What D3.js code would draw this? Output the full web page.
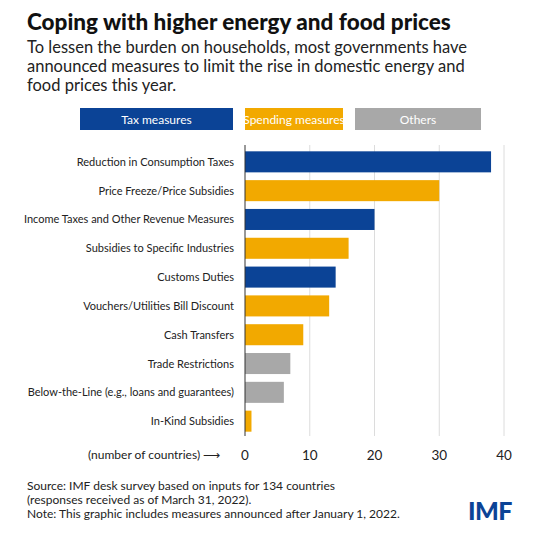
<!DOCTYPE html>
<html><head><meta charset="utf-8">
<script src="https://cdn.jsdelivr.net/npm/d3@7"></script>
<style>body{margin:0;background:#fff;font-family:Lato,"Open Sans",sans-serif;}</style>
</head><body><div id="chart"></div>
<script>
const categories = ["Reduction in Consumption Taxes","Price Freeze/Price Subsidies","Income Taxes and Other Revenue Measures","Subsidies to Specific Industries","Customs Duties","Vouchers/Utilities Bill Discount","Cash Transfers","Trade Restrictions","Below-the-Line (e.g., loans and guarantees)","In-Kind Subsidies"];
const values = [38, 30, 20, 16, 14, 13, 9, 7, 6, 1];
const groups = ["tax","spend","tax","spend","tax","spend","spend","other","other","spend"];
const legendLabels = ["Tax measures","Spending measures","Others"];
const ticks = [0, 10, 20, 30, 40];

const color = {tax:"#0b4396", spend:"#f2a900", other:"#a8a8a8"};
const svg = d3.select("#chart").append("svg").attr("width",539).attr("height",539);

svg.append("text").attr("x",27).attr("y",30).attr("font-size",22.5).attr("font-weight",900)
  .attr("fill","#111").text("Coping with higher energy and food prices");
["To lessen the burden on households, most governments have","announced measures to limit the rise in domestic energy and","food prices this year."]
  .forEach((t,i)=>svg.append("text").attr("x",27).attr("y",53+i*19).attr("font-size",16.5).attr("fill","#222").text(t));

// legend
const lg = [{k:"tax",x:80,w:153},{k:"spend",x:245,w:98},{k:"other",x:355,w:126}];
lg.forEach((d,i)=>{
  svg.append("rect").attr("x",d.x).attr("y",108).attr("width",d.w).attr("height",22).attr("fill",color[d.k]);
  svg.append("text").attr("x",d.x+d.w/2).attr("y",123.5).attr("text-anchor","middle").attr("font-size",12)
    .attr("fill","#fff").text(legendLabels[i]);
});

const x = d3.scaleLinear().domain([0,40]).range([245,504]);
const y = d3.scaleBand().domain(categories).range([147,436]).paddingInner(0.27).paddingOuter(0.15);

svg.append("g").selectAll("line").data(ticks.slice(1)).join("line")
  .attr("x1",d=>x(d)).attr("x2",d=>x(d)).attr("y1",145).attr("y2",436)
  .attr("stroke","#dcdcdc").attr("stroke-width",1);

svg.append("g").selectAll("rect").data(values).join("rect")
  .attr("x",x(0)).attr("y",(d,i)=>y(categories[i])).attr("width",d=>x(d)-x(0))
  .attr("height",y.bandwidth()).attr("fill",(d,i)=>color[groups[i]]);

svg.append("line").attr("x1",x(0)).attr("x2",x(0)).attr("y1",145).attr("y2",436).attr("stroke","#333");

svg.append("g").selectAll("text").data(categories).join("text")
  .attr("x",234).attr("y",d=>y(d)+y.bandwidth()/2+4).attr("text-anchor","end")
  .attr("font-size",11).attr("fill","#222").text(d=>d);

svg.append("g").selectAll("text").data(ticks).join("text")
  .attr("x",d=>x(d)).attr("y",460).attr("text-anchor","middle").attr("font-size",13.5).attr("fill","#222").text(d=>d);

svg.append("text").attr("x",88).attr("y",459).attr("font-size",12).attr("fill","#222").text("(number of countries)  ⟶");

["Source: IMF desk survey based on inputs for 134 countries","(responses received as of March 31, 2022).","Note: This graphic includes measures announced after January 1, 2022."]
  .forEach((t,i)=>svg.append("text").attr("x",27).attr("y",490+i*14).attr("font-size",12).attr("fill","#222").text(t));

svg.append("text").attr("x",512).attr("y",520).attr("text-anchor","end").attr("font-size",25).attr("font-weight",900)
  .attr("fill","#0b4396").attr("letter-spacing",-0.5).text("IMF");
</script></body></html>
